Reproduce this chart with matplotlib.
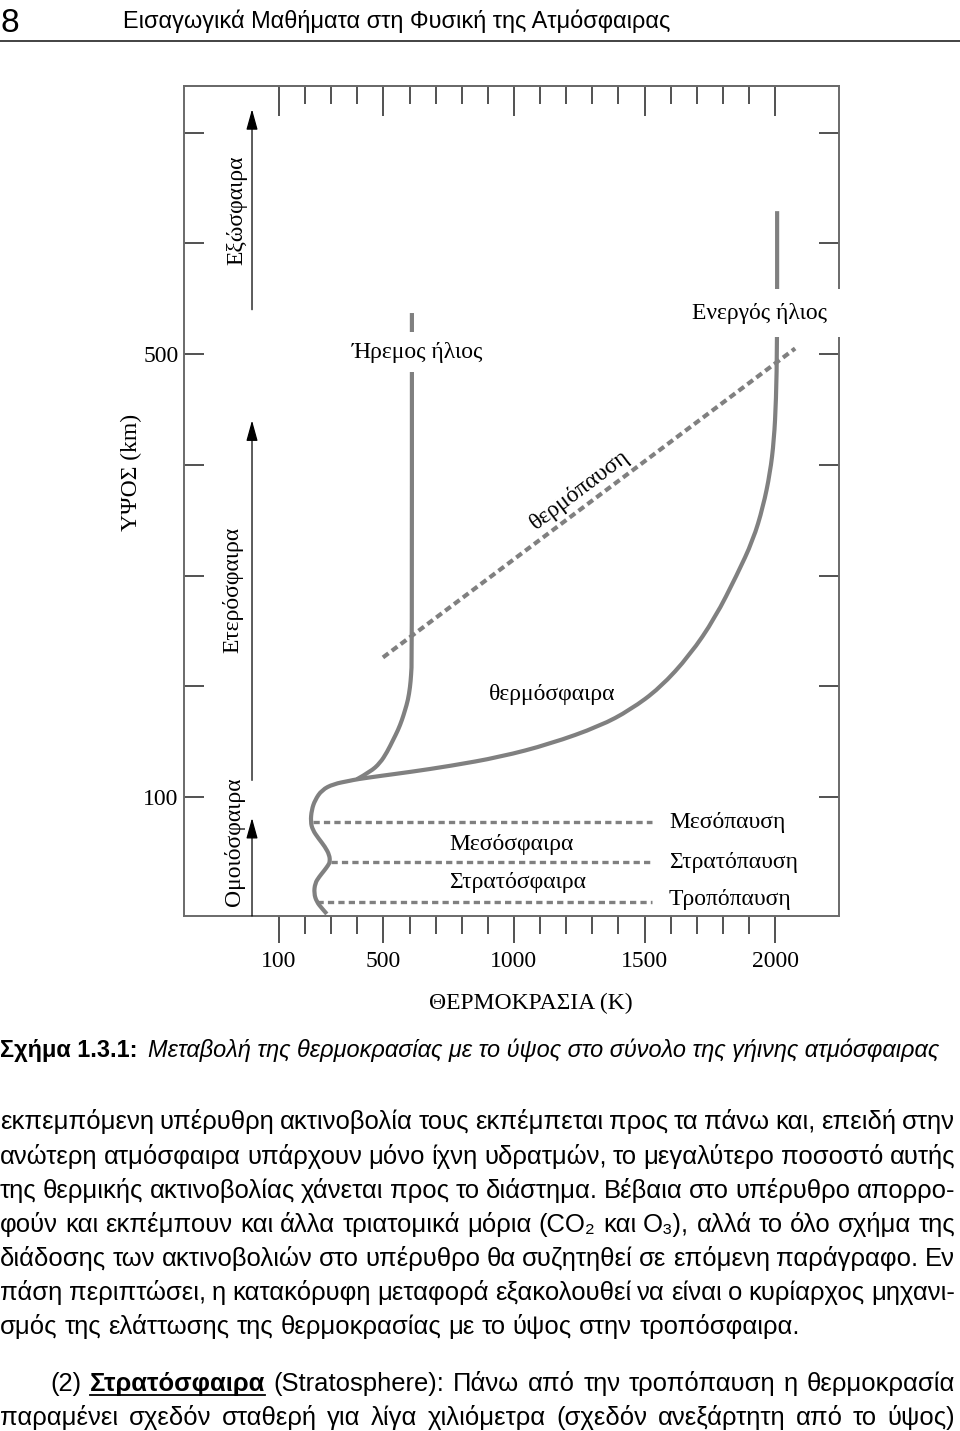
import matplotlib
matplotlib.use('Agg')
import matplotlib.pyplot as plt
from matplotlib import font_manager
from matplotlib.lines import Line2D
from matplotlib.path import Path
from matplotlib.patches import PathPatch

W, H = 960, 1431
plt.rcParams['lines.scale_dashes'] = False

# temperature (K) / altitude (km) profiles
low_T = [283, 264, 244, 234, 238, 254, 272, 289, 295, 293, 276, 251, 229, 221, 225, 238, 264, 308, 372, 398]
low_z = [-5.6, -0.5, 5.5, 13.0, 22.1, 28.0, 33.2, 38.6, 41.6, 47.6, 55.1, 62.7, 70.2, 77.7, 88.3, 97.3,
         106.3, 111.7, 114.7, 116.0]
quiet_T = [398, 450, 487, 514, 537, 556, 571, 583, 594, 602, 606, 609, 609]
quiet_z = [116.0, 122.8, 130.7, 140.6, 151.5, 160.5, 169.5, 178.6, 187.6, 199.3, 210.2, 223.7, 537]
active_T = [487, 602, 755, 947, 1138, 1330, 1445, 1559, 1674, 1770, 1854, 1916, 1954, 1981, 1996, 2004, 2008, 2008]
active_z = [119.0, 122.6, 128.0, 136.1, 147.9, 164.1, 178.6, 198.4, 228.2, 261.6, 300.5, 332.1, 361.9,
            392.6, 422.3, 458.5, 510, 629]

# layer boundaries: name, altitude, temperature where the dashes start
pause_names = ['Μεσόπαυση', 'Στρατόπαυση', 'Τροπόπαυση']
pause_z = [77.6, 41.5, 5.2]
pause_T0 = [230, 298, 244]
pause_T1 = 1529
thermopause_T = [498, 2077]
thermopause_z = [226, 505]

x_major = [100, 500, 1000, 1500, 2000]
x_minor = [t for t in range(200, 2000, 100) if t not in x_major]
y_major = [100, 200, 300, 400, 500, 600, 700]
y_labels = ['100', '', '', '', '500', '', '']

header_title = 'Εισαγωγικά Μαθήματα στη Φυσική της Ατμόσφαιρας'
caption_bold = 'Σχήμα 1.3.1:'
caption_text = 'Μεταβολή της θερμοκρασίας με το ύψος στο σύνολο της γήινης ατμόσφαιρας'
body = [
    'εκπεμπόμενη υπέρυθρη ακτινοβολία τους εκπέμπεται προς τα πάνω και, επειδή στην',
    'ανώτερη ατμόσφαιρα υπάρχουν μόνο ίχνη υδρατμών, το μεγαλύτερο ποσοστό αυτής',
    'της θερμικής ακτινοβολίας χάνεται προς το διάστημα. Βέβαια στο υπέρυθρο απορρο-',
    'φούν και εκπέμπουν και άλλα τριατομικά μόρια (CO₂ και O₃), αλλά το όλο σχήμα της',
    'διάδοσης των ακτινοβολιών στο υπέρυθρο θα συζητηθεί σε επόμενη παράγραφο. Εν',
    'πάση περιπτώσει, η κατακόρυφη μεταφορά εξακολουθεί να είναι ο κυρίαρχος μηχανι-',
    'σμός της ελάττωσης της θερμοκρασίας με το ύψος στην τροπόσφαιρα.',
]
body_y = [1122, 1157, 1191, 1225, 1259, 1293, 1327]
para2 = [
    '(2) Στρατόσφαιρα (Stratosphere): Πάνω από την τροπόπαυση η θερμοκρασία',
    'παραμένει σχεδόν σταθερή για λίγα χιλιόμετρα (σχεδόν ανεξάρτητη από το ύψος)',
]
para2_y = [1384, 1418]

names = {f.name for f in font_manager.fontManager.ttflist}
serif = ['Liberation Serif', 'DejaVu Serif']
sans_name = 'Liberation Sans Narrow' if 'Liberation Sans Narrow' in names else 'Liberation Sans'
sans = [sans_name, 'DejaVu Sans']

gray = '#808080'

fig = plt.figure(figsize=(W / 100, H / 100), dpi=100)
fig.patch.set_facecolor('white')


def P(x, y):
    return x / W, 1 - y / H


# ---- chart ----
ax = fig.add_axes([184 / W, 1 - 916 / H, 655 / W, 830 / H])
ax.set_xlim(-264, 2245)
ax.set_ylim(-7.45, 742)
for s in ax.spines.values():
    s.set_color('#6a6a6a')
    s.set_linewidth(1.4)


def smooth_curve(T, z):
    # quadratic bezier through the read points, drawn in data space
    pts = list(zip(T, z))
    verts, codes = [pts[0]], [Path.MOVETO]
    for a, b in zip(pts[1:-1], pts[2:]):
        verts += [a, ((a[0] + b[0]) / 2, (a[1] + b[1]) / 2)]
        codes += [Path.CURVE3, Path.CURVE3]
    verts.append(pts[-1])
    codes.append(Path.LINETO)
    ax.add_patch(PathPatch(Path(verts, codes), fill=False, edgecolor=gray, lw=3,
                           joinstyle='round', capstyle='butt'))


smooth_curve(low_T + active_T, low_z + active_z)
smooth_curve(quiet_T, quiet_z)
for z, t0 in zip(pause_z, pause_T0):
    ax.plot([t0, pause_T1], [z, z], color=gray, lw=2.4, dashes=(4.5, 3))
ax.plot(thermopause_T, thermopause_z, color=gray, lw=3, dashes=(5, 3))

ax.set_yticks(y_major)
ax.set_yticklabels(y_labels, family=serif, fontsize=17)
ax.tick_params(axis='y', direction='in', length=14.5, width=1.1, color='#222222',
               left=True, right=True, pad=4)
ax.set_xticks(x_major)
ax.set_xticks(x_minor, minor=True)
ax.set_xticklabels([str(v) for v in x_major], family=serif, fontsize=17)
ax.tick_params(axis='x', which='major', direction='out', length=19.5, width=1.1,
               color='#222222', pad=6)
ax.tick_params(axis='x', which='minor', direction='out', length=13, width=1.1, color='#222222')

top = ax.secondary_xaxis('top')
top.set_xticks(x_major)
top.set_xticks(x_minor, minor=True)
top.tick_params(which='major', direction='in', length=21.5, width=1.1, color='#222222', labeltop=False)
top.tick_params(which='minor', direction='in', length=13, width=1.1, color='#222222')
top.spines['top'].set_color('#6a6a6a')
top.spines['top'].set_linewidth(1.4)

# region arrows on the left
arrow = dict(arrowstyle='-|>,head_length=0.9,head_width=0.25', color='black', lw=0.9,
             mutation_scale=14, shrinkA=0, shrinkB=0)
for z0, z1 in [(540, 721), (115, 440), (-7.45, 81)]:
    ax.annotate('', xy=(-3.5, z1), xytext=(-3.5, z0), arrowprops=arrow)

tk = dict(family=serif, fontsize=17, ha='center', va='center')
ax.text(-61, 630, 'Εξώσφαιρα', rotation=90, **tk)
ax.text(-78, 287, 'Ετερόσφαιρα', rotation=90, **tk)
ax.text(-72, 59.4, 'Ομοιόσφαιρα', rotation=90, **tk)
ax.text(632, 501.8, 'Ήρεμος ήλιος', bbox=dict(facecolor='white', edgecolor='none', pad=7), **tk)
ax.text(1942, 537, 'Ενεργός ήλιος', bbox=dict(facecolor='white', edgecolor='none', pad=10), **tk)
ax.text(1253, 377, 'θερμόπαυση', rotation=37, rotation_mode='anchor', **tk)
ax.text(1146, 193, 'θερμόσφαιρα', **tk)
ax.text(992, 56.7, 'Μεσόσφαιρα', **tk)
ax.text(1015, 22.4, 'Στρατόσφαιρα', **tk)
for name, z in zip(pause_names, [77.4, 41.3, 7.0]):
    ax.text(1594, z, name, family=serif, fontsize=17, ha='left', va='center')

fig.text(*P(131, 472), 'ΥΨΟΣ (km)', rotation=90, **tk)
fig.text(*P(531, 1003), 'ΘΕΡΜΟΚΡΑΣΙΑ (K)', **tk)

# ---- page text ----
r = fig.canvas.get_renderer()


def width(t):
    return t.get_window_extent(r).width


def fit(t, target):
    t.set_fontsize(t.get_fontsize() * target / width(t))


fig.text(*P(0, 32), '8', family=sans, fontsize=24, ha='left', va='baseline')
th = fig.text(*P(123, 28), header_title, family=sans, fontsize=16, ha='left', va='baseline')
fit(th, 545)
fig.add_artist(Line2D([0, 1], [1 - 41 / H] * 2, color='#222222', lw=1.2))

cb = fig.text(*P(0, 1057), caption_bold, family=sans, fontsize=16, fontweight='bold',
              ha='left', va='baseline')
fit(cb, 138)
ci = fig.text(*P(148, 1057), caption_text, family=sans, fontsize=16, style='italic',
              ha='left', va='baseline')
fit(ci, 795)

probe = fig.text(0, 0, body[-1], family=sans, fontsize=10)
size = 10 * 800 / width(probe)
probe.remove()
sp1 = fig.text(0, 0, 'a a', family=sans, fontsize=size)
sp2 = fig.text(0, 0, 'aa', family=sans, fontsize=size)
space = width(sp1) - width(sp2)
sp1.remove()
sp2.remove()


def put_line(line, y, x0, x1, justify=True, bold=()):
    items = []
    for w in line.split(' '):
        kw = dict(fontweight='bold') if w in bold else {}
        items.append(fig.text(0, 1 - (y + 7) / H, w, family=sans, fontsize=size,
                              ha='left', va='baseline', **kw))
    ws = [width(t) for t in items]
    gap = (x1 - x0 - sum(ws)) / (len(items) - 1) if justify else space
    x = x0
    for t, w in zip(items, ws):
        t.set_x(x / W)
        if t.get_text() in bold:
            fig.add_artist(Line2D([x / W, (x + w) / W], [1 - (y + 11) / H] * 2,
                                  color='black', lw=1.3))
        x += w + gap


for i, (line, y) in enumerate(zip(body, body_y)):
    put_line(line, y, 0, 955, justify=i < len(body) - 1)
put_line(para2[0], para2_y[0], 50, 955, bold=('Στρατόσφαιρα',))
put_line(para2[1], para2_y[1], 0, 955)

fig.savefig('out.png', dpi=100, facecolor='white')
